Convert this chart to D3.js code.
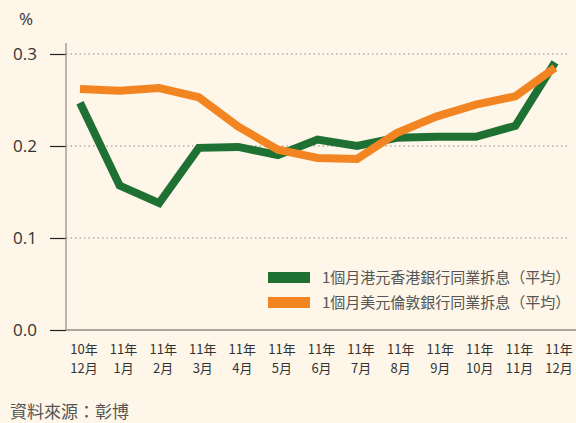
<!DOCTYPE html>
<html>
<head>
<meta charset="utf-8">
<script src="https://cdn.jsdelivr.net/npm/d3@7"></script>
<style>
  body { margin: 0; background: #fdf6e9; }
  svg { display: block; font-family: "Noto Sans CJK TC", "Noto Sans", sans-serif; }
</style>
</head>
<body>
<div class="chart"></div>
<script>
// data
const years = ['10年', '11年', '11年', '11年', '11年', '11年', '11年', '11年', '11年', '11年', '11年', '11年', '11年']
const months = ['12月', '1月', '2月', '3月', '4月', '5月', '6月', '7月', '8月', '9月', '10月', '11月', '12月']
const hkd = [0.247, 0.157, 0.138, 0.198, 0.199, 0.190, 0.207, 0.200, 0.209, 0.210, 0.210, 0.222, 0.291]
const usd = [0.262, 0.260, 0.263, 0.253, 0.221, 0.196, 0.187, 0.186, 0.214, 0.232, 0.245, 0.254, 0.285]
const yTicks = [0, 0.1, 0.2, 0.3]
const seriesNames = ['1個月港元香港銀行同業拆息（平均）', '1個月美元倫敦銀行同業拆息（平均）']
const colors = ['#1e7132', '#f28521']

const width = 576
const height = 423

let svg = d3.select('.chart')
    .append('svg')
    .attr('width', width)
    .attr('height', height)

svg.append('rect')
    .attr('width', width)
    .attr('height', height)
    .attr('fill', '#fdf6e9')

let x = d3.scalePoint()
    .domain(d3.range(months.length))
    .range([80, 555])

let y = d3.scaleLinear()
    .domain([0, 0.3])
    .range([330, 54])

// gridlines
svg.selectAll('.grid')
    .data(yTicks.filter(d => d > 0))
    .enter()
    .append('line')
    .attr('x1', 66)
    .attr('x2', 568)
    .attr('y1', d => y(d))
    .attr('y2', d => y(d))
    .attr('stroke', '#888')
    .attr('stroke-width', 1.2)
    .attr('stroke-dasharray', '1.5,3')

// y axis
let yAxis = svg.append('g')
    .attr('transform', 'translate(66,0)')
    .call(d3.axisLeft(y).tickValues(yTicks).tickFormat(d3.format('.1f')).tickSize(16).tickPadding(13))
yAxis.select('.domain').remove()
yAxis.selectAll('line').attr('stroke', '#222').attr('stroke-width', 1.2)
yAxis.selectAll('text')
    .attr('fill', '#333')
    .style('font-size', '17px')
    .style('font-family', '"Open Sans", "Noto Sans", sans-serif')

svg.append('line')
    .attr('x1', 66).attr('x2', 66)
    .attr('y1', 43).attr('y2', 330)
    .attr('stroke', '#9a9088')
    .attr('stroke-width', 1.3)

svg.append('line')
    .attr('x1', 66).attr('x2', 576)
    .attr('y1', 330).attr('y2', 330)
    .attr('stroke', '#b0a69c')
    .attr('stroke-width', 1.8)

svg.append('text')
    .attr('x', 26)
    .attr('y', 25)
    .attr('text-anchor', 'middle')
    .attr('fill', '#333')
    .style('font-size', '17px')
    .style('font-family', '"Open Sans", "Noto Sans", sans-serif')
    .text('%')

// x labels, two lines each
let xg = svg.selectAll('.xl')
    .data(months)
    .enter()
    .append('g')
    .attr('transform', (d, i) => 'translate(' + (x(i) + 4) + ',0)')
xg.append('text')
    .attr('text-anchor', 'middle')
    .attr('fill', '#333')
    .style('font-size', '13px')
    .attr('y', 354)
    .text((d, i) => years[i])
xg.append('text')
    .attr('text-anchor', 'middle')
    .attr('fill', '#333')
    .style('font-size', '13px')
    .attr('y', 373)
    .text(d => d)

// lines
let line = d3.line()
    .x((d, i) => x(i))
    .y(d => y(d))

;[hkd, usd].forEach((s, k) => {
    svg.append('path')
        .datum(s)
        .attr('d', line)
        .attr('fill', 'none')
        .attr('stroke', colors[k])
        .attr('stroke-width', 8)
        .attr('stroke-linejoin', 'miter')
})

// legend
seriesNames.forEach((name, k) => {
    svg.append('rect')
        .attr('x', 268)
        .attr('y', 272 + k * 25)
        .attr('width', 42)
        .attr('height', 11)
        .attr('fill', colors[k])
    svg.append('text')
        .attr('x', 322)
        .attr('y', 283 + k * 25)
        .attr('fill', '#555')
        .style('font-size', '15px')
        .text(name)
})

svg.append('text')
    .attr('x', 10)
    .attr('y', 418)
    .attr('fill', '#555')
    .style('font-size', '17px')
    .text('資料來源：彰博')
</script>
</body>
</html>
